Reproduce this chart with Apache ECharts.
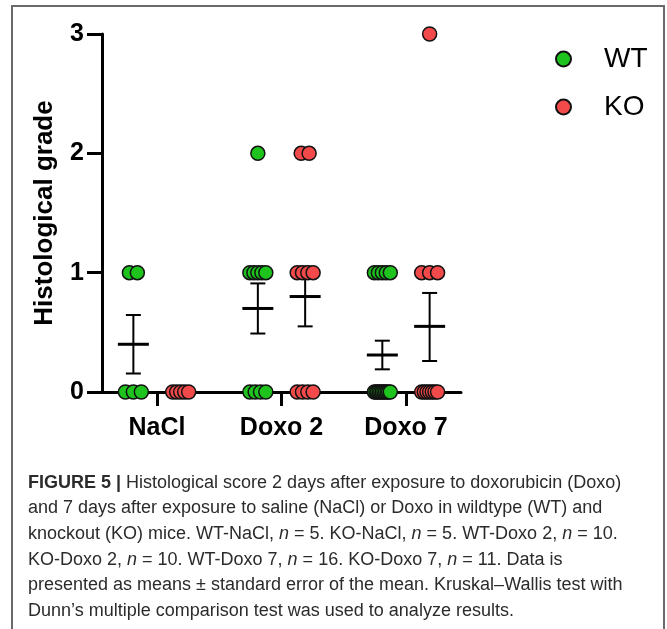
<!DOCTYPE html>
<html lang="en">
<head>
  <meta charset="utf-8">
  <title>Histological grade</title>
  <script type="text/javascript" src="https://cdn.jsdelivr.net/npm/echarts@6/dist/echarts.min.js"></script>
  <style type="text/css">
    * {
      margin: 0;
      padding: 0;
    }
    html, body, #chart {
      width: 100%;
      height: 100%;
      overflow: hidden;
      background: #fff;
    }
  </style>
</head>
<body>
  <div id="chart"></div>
  <script type="text/javascript">
    // groups on the x axis
    var categories = ['NaCl', 'Doxo 2', 'Doxo 7'];
    var yTicks = [0, 1, 2, 3];

    // individual scores
    var wtScores = [
      [1, 1, 0, 0, 0],
      [2, 1, 1, 1, 1, 1, 0, 0, 0, 0],
      [1, 1, 1, 1, 1, 0, 0, 0, 0, 0, 0, 0, 0, 0, 0, 0]
    ];
    var koScores = [
      [0, 0, 0, 0, 0],
      [2, 2, 1, 1, 1, 1, 0, 0, 0, 0],
      [3, 1, 1, 1, 0, 0, 0, 0, 0, 0, 0]
    ];

    // mean and SEM bars
    var wtMean = [0.40, 0.70, 0.31];
    var wtLow = [0.155, 0.49, 0.19];
    var wtHigh = [0.645, 0.91, 0.43];
    var koMean = [0.00, 0.80, 0.55];
    var koLow = [0.00, 0.55, 0.26];
    var koHigh = [0.00, 1.05, 0.83];

    var FONT = "'Liberation Sans', Arial, sans-serif";
    var SHIFT = 0.19;      // WT left / KO right of the group tick
    var STEP = 0.064;      // horizontal spread between stacked dots
    var MAXSPREAD = 0.128;

    // lay the dots out side by side like a column scatter
    function dots(scores, shift) {
      var out = [];
      scores.forEach(function (list, g) {
        var byGrade = {};
        list.forEach(function (v) {
          (byGrade[v] = byGrade[v] || []).push(v);
        });
        Object.keys(byGrade).forEach(function (k) {
          var n = byGrade[k].length;
          var spread = Math.min(STEP * (n - 1), MAXSPREAD);
          for (var j = 0; j < n; j++) {
            var dx = n === 1 ? 0 : -spread / 2 + spread * j / (n - 1);
            out.push([g + shift + dx, Number(k)]);
          }
        });
      });
      return out;
    }

    function bars(mean, low, high, shift) {
      return mean.map(function (m, g) {
        return [g + shift, m, low[g], high[g]];
      });
    }

    function renderBar(params, api) {
      var x = api.coord([api.value(0), api.value(1)]);
      var lo = api.coord([api.value(0), api.value(2)]);
      var hi = api.coord([api.value(0), api.value(3)]);
      var st = { stroke: '#000', lineWidth: 2 };
      var children = [];
      if (api.value(3) > api.value(2)) {
        children.push(
          { type: 'line', shape: { x1: x[0], y1: lo[1], x2: x[0], y2: hi[1] }, style: st },
          { type: 'line', shape: { x1: x[0] - 7.5, y1: lo[1], x2: x[0] + 7.5, y2: lo[1] }, style: st },
          { type: 'line', shape: { x1: x[0] - 7.5, y1: hi[1], x2: x[0] + 7.5, y2: hi[1] }, style: st }
        );
      }
      children.push({
        type: 'line',
        shape: { x1: x[0] - 15.5, y1: x[1], x2: x[0] + 15.5, y2: x[1] },
        style: { stroke: '#000', lineWidth: 3 }
      });
      return { type: 'group', children: children };
    }

    var caption = [
      '{b|FIGURE 5 |} Histological score 2 days after exposure to doxorubicin (Doxo)',
      'and 7 days after exposure to saline (NaCl) or Doxo in wildtype (WT) and',
      'knockout (KO) mice. WT-NaCl, {i|n} = 5. KO-NaCl, {i|n} = 5. WT-Doxo 2, {i|n} = 10.',
      'KO-Doxo 2, {i|n} = 10. WT-Doxo 7, {i|n} = 16. KO-Doxo 7, {i|n} = 11. Data is',
      'presented as means \u00b1 standard error of the mean. Kruskal\u2013Wallis test with',
      'Dunn\u2019s multiple comparison test was used to analyze results.'
    ].join('\n');

    var option = {
      animation: false,
      backgroundColor: '#fff',
      grid: { left: 102, right: 206, top: 34, bottom: 237 },
      legend: {
        orient: 'vertical',
        left: 555,
        top: 45,
        padding: 0,
        itemWidth: 15,
        itemHeight: 15,
        itemGap: 20,
        textStyle: {
          fontFamily: FONT,
          fontSize: 28,
          lineHeight: 28,
          color: '#000',
          padding: [0, 0, 0, 28]
        },
        data: ['WT', 'KO']
      },
      xAxis: {
        type: 'value',
        min: -0.442,
        max: 2.442,
        splitLine: { show: false },
        axisLine: { onZero: false, lineStyle: { color: '#000', width: 3 } },
        axisTick: {
          show: true,
          customValues: [0, 1, 2],
          length: 14,
          lineStyle: { color: '#000', width: 3 }
        },
        axisLabel: {
          customValues: [0, 1, 2],
          margin: 24,
          fontFamily: FONT,
          fontSize: 25,
          fontWeight: 'bold',
          color: '#000',
          formatter: function (v) {
            return categories[Math.round(v)];
          }
        }
      },
      yAxis: {
        type: 'value',
        min: 0,
        max: 3,
        interval: 1,
        name: 'Histological grade',
        nameLocation: 'middle',
        nameGap: 44,
        nameTextStyle: {
          fontFamily: FONT,
          fontSize: 26,
          fontWeight: 'bold',
          color: '#000'
        },
        splitLine: { show: false },
        axisLine: { show: true, onZero: false, lineStyle: { color: '#000', width: 3 } },
        axisTick: { show: true, length: 15, lineStyle: { color: '#000', width: 3 } },
        axisLabel: {
          margin: 18,
          fontFamily: FONT,
          fontSize: 25,
          fontWeight: 'bold',
          color: '#000',
          formatter: function (v) {
            return yTicks.indexOf(v) >= 0 ? String(v) : '';
          }
        }
      },
      graphic: [
        {
          type: 'rect',
          shape: { x: 12, y: 6, width: 652, height: 700 },
          style: { fill: 'none', stroke: '#6a6a6a', lineWidth: 2 },
          silent: true
        },
        {
          type: 'text',
          left: 28,
          top: 470,
          style: {
            text: caption,
            fontFamily: FONT,
            fontSize: 18,
            lineHeight: 25.6,
            fill: '#2b2b2b',
            rich: {
              b: { fontFamily: FONT, fontSize: 18, fontWeight: 'bold', fill: '#2b2b2b', lineHeight: 25.6 },
              i: { fontFamily: FONT, fontSize: 18, fontStyle: 'italic', fill: '#2b2b2b', lineHeight: 25.6 }
            }
          }
        }
      ],
      series: [
        {
          type: 'custom',
          name: 'WT bars',
          z: 1,
          renderItem: renderBar,
          data: bars(wtMean, wtLow, wtHigh, -SHIFT)
        },
        {
          type: 'custom',
          name: 'KO bars',
          z: 1,
          renderItem: renderBar,
          data: bars(koMean, koLow, koHigh, SHIFT)
        },
        {
          type: 'scatter',
          name: 'WT',
          z: 3,
          clip: false,
          symbol: 'circle',
          symbolSize: 14,
          itemStyle: { color: '#1ec31e', borderColor: '#111', borderWidth: 1.5, opacity: 1 },
          data: dots(wtScores, -SHIFT)
        },
        {
          type: 'scatter',
          name: 'KO',
          z: 3,
          clip: false,
          symbol: 'circle',
          symbolSize: 14,
          itemStyle: { color: '#f24a4a', borderColor: '#111', borderWidth: 1.5, opacity: 1 },
          data: dots(koScores, SHIFT)
        }
      ]
    };

    var chart = echarts.init(document.getElementById('chart'));
    chart.setOption(option);
  </script>
</body>
</html>
